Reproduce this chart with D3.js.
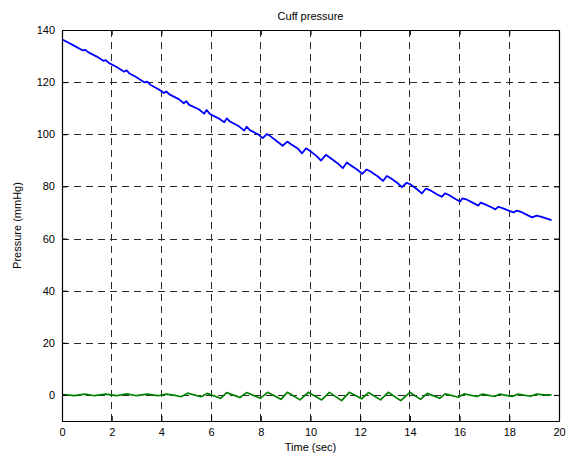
<!DOCTYPE html>
<html>
<head>
<meta charset="utf-8">
<script src="https://cdn.jsdelivr.net/npm/d3@7/dist/d3.min.js"></script>
<style>
  html, body { margin: 0; padding: 0; background: #fff; }
  svg { display: block; }
  text { font-family: "Liberation Sans", Arial, sans-serif; fill: #000; }
</style>
</head>
<body>
<svg id="chart" width="568" height="457"></svg>
<script>
// ---- data ----
const title = "Cuff pressure";
const xLabel = "Time (sec)";
const yLabel = "Pressure (mmHg)";
const xTicks = [0, 2, 4, 6, 8, 10, 12, 14, 16, 18, 20];
const yTicks = [0, 20, 40, 60, 80, 100, 120, 140];

// cuff pressure (blue): time (s)
const cuffTime = [
  0, 0.15, 0.5, 0.82, 0.93, 1.05, 1.4, 1.66, 1.76, 1.9, 2.2, 2.5, 2.6, 2.72, 3.0, 3.32, 3.43, 3.55,
  3.9, 4.1, 4.2, 4.32, 4.7, 4.9, 5.0, 5.12, 5.5, 5.72, 5.82, 5.95, 6.3, 6.53, 6.63, 6.76,
  7.1, 7.33, 7.43, 7.56, 7.9, 8.08, 8.24, 8.38, 8.65, 8.88, 9.07, 9.2, 9.5, 9.66, 9.82, 9.96,
  10.25, 10.42, 10.62, 10.76, 11.1, 11.3, 11.46, 11.6, 11.9, 12.08, 12.26, 12.4, 12.7, 12.92,
  13.07, 13.22, 13.5, 13.68, 13.87, 14.0, 14.3, 14.48, 14.65, 14.8, 15.1, 15.28, 15.41, 15.55,
  15.85, 16.02, 16.12, 16.3, 16.6, 16.75, 16.85, 17.0, 17.3, 17.44, 17.56, 17.75, 18.0, 18.17,
  18.3, 18.5, 18.75, 18.92, 19.1, 19.3, 19.7
];
// cuff pressure (blue): mmHg
const cuffPressure = [
  136.4, 135.7, 133.9, 132.2, 132.4, 131.5, 129.8, 128.2, 128.4, 127.3, 125.8, 124.0, 124.5, 123.3,
  121.9, 119.9, 120.2, 119.0, 117.2, 115.8, 116.4, 115.3, 113.5, 111.9, 112.7, 111.3, 109.6, 107.9,
  109.3, 107.8, 106.1, 104.6, 106.1, 104.9, 103.2, 101.4, 102.9, 101.6, 99.9, 98.5, 100.1, 99.3,
  97.3, 95.6, 97.2, 96.3, 94.4, 92.7, 94.6, 93.8, 91.6, 89.9, 92.1, 91.2, 88.8, 87.0, 89.2, 88.2,
  86.3, 84.8, 86.5, 85.8, 83.9, 82.1, 84.0, 83.2, 81.3, 79.7, 81.4, 80.9, 78.8, 77.3, 79.2, 78.6,
  76.9, 76.0, 77.3, 76.8, 75.1, 74.2, 75.4, 74.9, 73.4, 72.6, 73.8, 73.2, 71.9, 71.2, 72.2, 71.6,
  70.6, 70.0, 70.7, 70.1, 68.9, 68.1, 68.8, 68.3, 67.1
];

// oscillations (green): time (s)
const oscTime = [
  0, 0.2, 0.5, 0.93, 1.3, 1.76, 2.2, 2.6, 3.0, 3.43, 3.85, 4.2, 4.55, 4.8, 5.05, 5.6, 5.84,
  6.38, 6.63, 7.16, 7.43, 7.98, 8.27, 8.81, 9.07, 9.58, 9.91, 10.45, 10.76, 11.25, 11.56,
  12.06, 12.33, 12.82, 13.13, 13.63, 14.0, 14.43, 14.7, 15.2, 15.42, 15.95, 16.18, 16.7,
  16.92, 17.4, 17.62, 18.12, 18.35, 18.85, 19.1, 19.4, 19.7
];
// oscillations (green): mmHg
const oscPressure = [
  0.1, 0.0, -0.3, 0.3, -0.3, 0.3, -0.3, 0.4, -0.3, 0.3, -0.3, 0.3, -0.2, -0.7, 0.7, -0.7, 0.6,
  -1.3, 0.9, -1.0, 0.9, -1.3, 1.0, -1.7, 1.0, -1.9, 1.0, -1.9, 1.0, -2.2, 1.0,
  -1.5, 0.9, -1.9, 1.0, -2.2, 1.0, -1.7, 0.6, -1.3, 0.4, -0.9, 0.4, -0.6,
  0.3, -0.6, 0.3, -0.6, 0.3, -0.5, 0.3, 0.0, 0.0
];

// ---- layout ----
const svg = d3.select("#chart");
const L = 62, R = 559, T = 30, B = 421;
const x = d3.scaleLinear().domain([0, 20]).range([L, R]);
const y = d3.scaleLinear().domain([-10, 140]).range([B, T]);

// grid
const g = svg.append("g");
g.selectAll(".vg").data(xTicks.filter(d => d > 0 && d < 20)).enter().append("line")
  .attr("x1", d => x(d)).attr("x2", d => x(d)).attr("y1", T).attr("y2", B)
  .attr("stroke", "#2a2a2a").attr("stroke-width", 1).attr("stroke-dasharray", "7,5")
  .attr("shape-rendering", "crispEdges");
g.selectAll(".hg").data(yTicks.filter(d => d < 140)).enter().append("line")
  .attr("y1", d => Math.round(y(d)) + 0.5).attr("y2", d => Math.round(y(d)) + 0.5).attr("x1", L).attr("x2", R)
  .attr("stroke", "#2a2a2a").attr("stroke-width", 1).attr("stroke-dasharray", "7,5")
  .attr("shape-rendering", "crispEdges");

// lines
const lineGen = (xs, ys) => d3.line().x((d, i) => x(xs[i])).y((d, i) => y(ys[i]));
svg.append("path").datum(oscTime)
  .attr("d", lineGen(oscTime, oscPressure))
  .attr("fill", "none").attr("stroke", "#008000").attr("stroke-width", 1.7)
  .attr("stroke-linejoin", "round");
svg.append("path").datum(cuffTime)
  .attr("d", lineGen(cuffTime, cuffPressure))
  .attr("fill", "none").attr("stroke", "#0000ff").attr("stroke-width", 1.8)
  .attr("stroke-linejoin", "round");

// axes (ticks inside, MATLAB-like)
const fmt = d3.format("d");
const xAxisB = d3.axisBottom(x).tickValues(xTicks).tickSizeInner(-5).tickSizeOuter(0).tickPadding(7).tickFormat(fmt);
const xAxisT = d3.axisTop(x).tickValues(xTicks).tickSizeInner(-5).tickSizeOuter(0).tickFormat("");
const yAxisL = d3.axisLeft(y).tickValues(yTicks.concat([-10])).tickSizeInner(-5).tickSizeOuter(0).tickPadding(7)
  .tickFormat(d => d === -10 ? "" : fmt(d));
const yAxisR = d3.axisRight(y).tickValues(yTicks.concat([-10])).tickSizeInner(-5).tickSizeOuter(0).tickFormat("");

function style(sel) {
  sel.selectAll("path").attr("stroke", "#000").attr("stroke-width", 1.2);
  sel.selectAll("line").attr("stroke", "#000").attr("stroke-width", 1);
  sel.selectAll("text").style("font-family", "'Liberation Sans', Arial, sans-serif")
    .style("font-size", "11px").attr("fill", "#000");
}
style(svg.append("g").attr("transform", `translate(0,${B})`).call(xAxisB));
style(svg.append("g").attr("transform", `translate(0,${T})`).call(xAxisT));
style(svg.append("g").attr("transform", `translate(${L},0)`).call(yAxisL));
style(svg.append("g").attr("transform", `translate(${R},0)`).call(yAxisR));

// labels
svg.append("text").attr("x", (L + R) / 2).attr("y", 20).attr("text-anchor", "middle")
  .style("font-size", "11px").text(title);
svg.append("text").attr("x", (L + R) / 2).attr("y", 451).attr("text-anchor", "middle")
  .style("font-size", "11px").text(xLabel);
svg.append("text").attr("transform", `translate(21,${(T + B) / 2}) rotate(-90)`)
  .attr("text-anchor", "middle").style("font-size", "11px").text(yLabel);
</script>
</body>
</html>
